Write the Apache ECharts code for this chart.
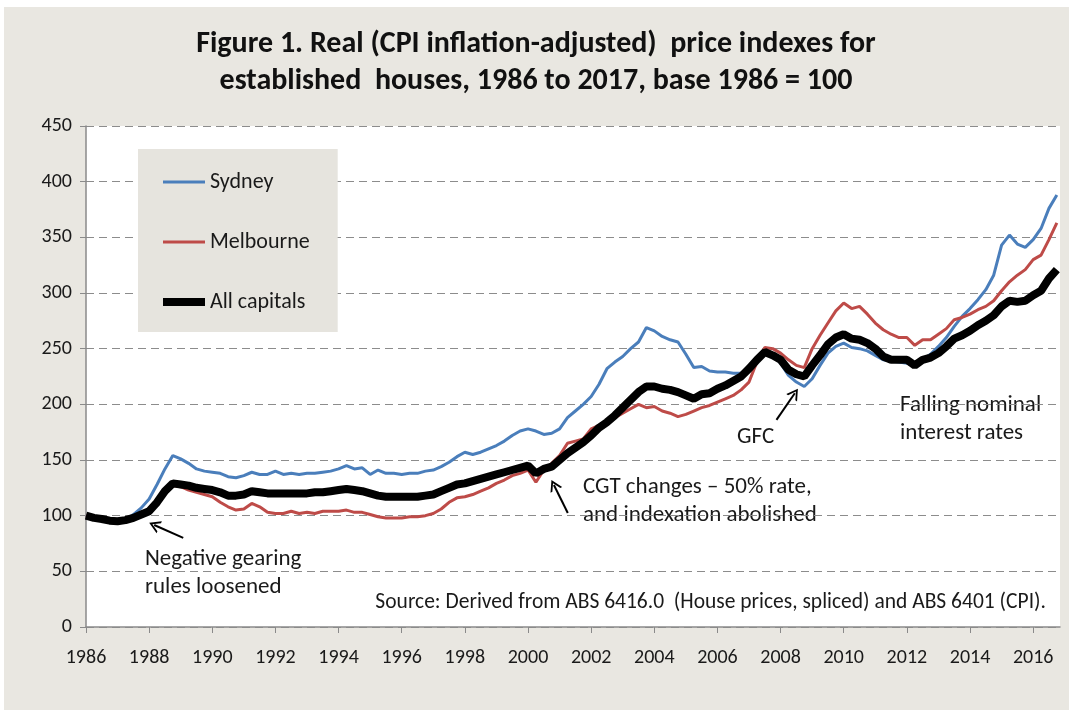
<!DOCTYPE html>
<html>
<head>
<meta charset="utf-8">
<script src="https://cdn.jsdelivr.net/npm/echarts@6/dist/echarts.min.js"></script>
<style>
html,body{margin:0;padding:0;background:#fff;}
#chart{width:1073px;height:715px;}
</style>
</head>
<body>
<div id="chart"></div>
<script>
// Quarterly observations, 1986 Q1 .. 2016 Q4 (plotted at year + 0, .25, .5, .75)
const startYear = 1986;
const endYear = 2016;
const yTicks = [0, 50, 100, 150, 200, 250, 300, 350, 400, 450];
const xTickYears = [1986, 1988, 1990, 1992, 1994, 1996, 1998, 2000, 2002, 2004, 2006, 2008, 2010, 2012, 2014, 2016];

const sydney = [
  100, 98, 97, 95.5,   95, 96, 101, 107,   115, 128, 142, 154,   151, 147, 142, 140,
  139, 138, 135, 134,  136, 139, 137, 137, 140, 137, 138, 137,   138, 138, 139, 140,
  142, 145, 142, 143,  137, 141, 138, 138, 137, 138, 138, 140,   141, 144, 148, 153,
  157, 155, 157, 160,  163, 167, 172, 176, 178, 176, 173, 174,   178, 188, 194, 200,
  207, 218, 232, 238,  243, 250, 256, 269, 266, 261, 258, 256,   245, 233, 234, 230,
  229, 229, 228, 228,  233, 240, 247, 245, 237, 226, 220, 216,   223, 235, 246, 252,
  255, 251, 250, 248,  244, 240, 239, 238, 237, 234, 240, 245,   252, 260, 270, 279,
  286, 294, 303, 316,  343, 352, 344, 341, 348, 358, 376, 388
];
const melbourne = [
  100, 98, 97, 95.5,   95, 95.5, 97, 100,  103, 110, 120, 127,   126, 123, 121, 119,
  117, 112, 108, 105,  106, 111, 108, 103, 102, 102, 104, 102,   103, 102, 104, 104,
  104, 105, 103, 103,  101, 99, 98, 98,    98, 99, 99, 100,      102, 106, 112, 116,
  117, 119, 122, 125,  129, 132, 136, 138, 141, 130, 141, 147,   154, 165, 167, 169,
  178, 181, 184, 188,  192, 196, 200, 197, 198, 194, 192, 189,   191, 194, 197, 199,
  202, 205, 208, 213,  220, 238, 251, 250, 246, 240, 235, 233,   250, 262, 273, 284,
  291, 286, 288, 281,  273, 267, 263, 260, 260, 253, 258, 258,   263, 268, 276, 278,
  281, 285, 288, 293,  302, 310, 316, 321, 330, 334, 348, 363
];
const allCapitals = [
  100, 98, 97, 95.5,   95, 96, 98, 101,    104, 112, 122, 129,   128, 127, 125, 124,
  123, 121, 118, 118,  119, 122, 121, 120, 120, 120, 120, 120,   120, 121, 121, 122,
  123, 124, 123, 122,  120, 118, 117, 117, 117, 117, 117, 118,   119, 122, 125, 128,
  129, 131, 133, 135,  137, 139, 141, 143, 145, 138, 142, 144,   150, 156, 161, 166,
  172, 179, 184, 190,  197, 204, 211, 216, 216, 214, 213, 211,   208, 205, 209, 210,
  214, 217, 221, 225,  232, 240, 247, 244, 240, 231, 227, 225,   235, 244, 254, 260,
  263, 259, 258, 255,  250, 243, 240, 240, 240, 235, 240, 242,   246, 252, 259, 262,
  266, 271, 275, 280,  288, 293, 292, 293, 298, 302, 313, 321
];

const quarters = [];
for (let y = startYear; y <= endYear; y++) {
  for (let q = 0; q < 4; q++) quarters.push(y + q * 0.25);
}
const pairs = vals => vals.map((v, i) => [quarters[i], v]);

const FONT = 'Carlito, Lato, "Open Sans", sans-serif';
const chevron = 'path://M0,10 L5,0 L10,10 L8.4,10 L5,3.2 L1.6,10 Z';
const thinIcon = 'path://M0,0 L42,0 L42,3.2 L0,3.2 Z';
const thickIcon = 'path://M0,0 L42,0 L42,8 L0,8 Z';

const chart = echarts.init(document.getElementById('chart'));
chart.setOption({
  backgroundColor: '#ffffff',
  animation: false,
  textStyle: { fontFamily: FONT },
  legend: {
    orient: 'vertical',
    left: 138,
    top: 149,
    padding: [22, 28, 19, 25],
    itemGap: 38,
    itemWidth: 42,
    itemHeight: 14,
    symbolKeepAspect: true,
    backgroundColor: '#e6e4de',
    textStyle: { fontFamily: FONT, fontSize: 22, color: '#1a1a1a' },
    data: [
      { name: 'Sydney', icon: thinIcon },
      { name: 'Melbourne', icon: thinIcon },
      { name: 'All capitals', icon: thickIcon }
    ]
  },
  grid: {
    left: 86, right: 13, top: 126, bottom: 88,
    show: true, backgroundColor: '#ffffff', borderWidth: 0
  },
  graphic: [
    { type: 'rect', z: -10, silent: true, shape: { x: 4, y: 7, width: 1065, height: 703 }, style: { fill: '#e9e7e1' } },
    { type: 'text', x: 536, y: 26, style: { text: 'Figure 1. Real (CPI inflation-adjusted)  price indexes for\nestablished  houses, 1986 to 2017, base 1986 = 100', font: 'bold 30px ' + FONT, fill: '#111', align: 'center', verticalAlign: 'top', lineHeight: 37 } },
    { type: 'text', left: 145, top: 545, style: { text: 'Negative gearing\nrules loosened', font: '23px ' + FONT, fill: '#1a1a1a', lineHeight: 28 } },
    { type: 'text', left: 583, top: 473, style: { text: 'CGT changes \u2013 50% rate,\nand indexation abolished', font: '23px ' + FONT, fill: '#1a1a1a', lineHeight: 28 } },
    { type: 'text', left: 737, top: 423, style: { text: 'GFC', font: '23px ' + FONT, fill: '#1a1a1a', lineHeight: 28 } },
    { type: 'text', left: 900, top: 391, style: { text: 'Falling nominal\ninterest rates', font: '23px ' + FONT, fill: '#1a1a1a', lineHeight: 28 } },
    { type: 'text', right: 27, top: 592, style: { text: 'Source: Derived from ABS 6416.0  (House prices, spliced) and ABS 6401 (CPI).', font: '21.5px ' + FONT, fill: '#1a1a1a' } }
  ],
  xAxis: {
    type: 'value',
    min: 1986,
    max: 2016.85,
    interval: 2,
    axisLine: { show: true, lineStyle: { color: '#8a8a8a', width: 1.5 } },
    axisTick: { show: true, length: 6, lineStyle: { color: '#8a8a8a' } },
    axisLabel: {
      fontFamily: FONT, fontSize: 20, color: '#1a1a1a', margin: 21,
      showMaxLabel: false,
      formatter: v => (xTickYears.indexOf(v) >= 0 ? String(v) : '')
    },
    splitLine: { show: false }
  },
  yAxis: {
    type: 'value',
    min: yTicks[0],
    max: yTicks[yTicks.length - 1],
    interval: 50,
    axisLine: { show: true, lineStyle: { color: '#8a8a8a', width: 1.5 } },
    axisTick: { show: true, length: 6, lineStyle: { color: '#8a8a8a' } },
    axisLabel: { fontFamily: FONT, fontSize: 20, color: '#1a1a1a', margin: 14 },
    splitLine: { show: true, lineStyle: { color: '#8c8c8c', width: 1, type: [8, 5] } }
  },
  series: [
    {
      name: 'Sydney', type: 'line', symbol: 'none', z: 2,
      data: pairs(sydney),
      itemStyle: { color: '#4a7ebb' },
      lineStyle: { color: '#4a7ebb', width: 3 }
    },
    {
      name: 'Melbourne', type: 'line', symbol: 'none', z: 3,
      data: pairs(melbourne),
      itemStyle: { color: '#be4b48' },
      lineStyle: { color: '#be4b48', width: 3 }
    },
    {
      name: 'All capitals', type: 'line', symbol: 'none', z: 4,
      data: pairs(allCapitals),
      itemStyle: { color: '#000000' },
      lineStyle: { color: '#000000', width: 8 },
      markLine: {
        silent: true,
        symbol: ['none', chevron],
        symbolSize: [13, 11],
        label: { show: false },
        lineStyle: { color: '#000', width: 2, type: 'solid' },
        data: [
          [{ coord: [1989.08, 80] }, { coord: [1988.16, 91.6] }],
          [{ coord: [2001.26, 102.4] }, { coord: [2000.82, 127.6] }],
          [{ coord: [2007.87, 186] }, { coord: [2008.45, 210] }]
        ]
      }
    }
  ]
});
</script>
</body>
</html>
